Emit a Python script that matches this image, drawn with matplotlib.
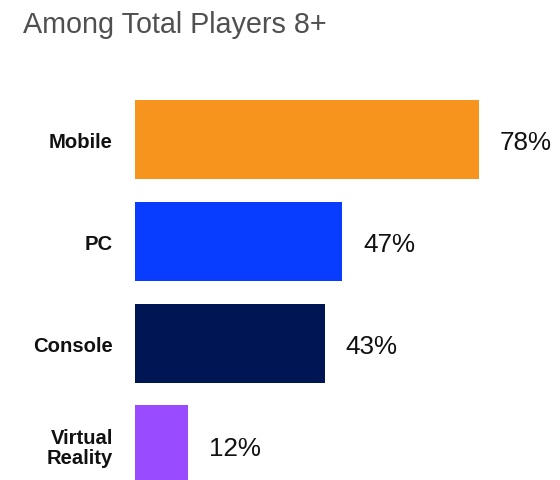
import matplotlib
matplotlib.use("Agg")
import matplotlib.pyplot as plt

# Share of players using each device
categories = ["Mobile", "PC", "Console", "Virtual\nReality"]
shares = [78, 47, 43, 12]
value_labels = ["78%", "47%", "43%", "12%"]
bar_colors = ["#F7941E", "#083CFF", "#001554", "#984BFF"]
subtitle = "Among Total Players 8+"

W, H, DPI = 560, 481, 100
fig = plt.figure(figsize=(W / DPI, H / DPI), dpi=DPI)

# axes spans from the bar baseline to the right edge of the canvas
left_px, top_px = 135, 90
ax = fig.add_axes([left_px / W, 0, 1 - left_px / W, 1 - top_px / H])

px_per_unit = 4.41
ax.set_xlim(0, (W - left_px) / px_per_unit)
ax.set_ylim(3.345, -0.496)

ypos = list(range(len(categories)))
ax.barh(ypos, shares, height=0.775, color=bar_colors)

for y, v, lab in zip(ypos, shares, value_labels):
    ax.annotate(lab, xy=(v, y), xytext=(15, -2), textcoords="offset points",
                ha="left", va="center", fontsize=18.7,
                family="Liberation Sans", color="#111111")

ax.set_yticks(ypos)
ax.set_yticklabels(categories, fontsize=14.6, fontweight="bold",
                   family="Liberation Sans", color="#111111",
                   linespacing=1.1)
ax.tick_params(axis="y", length=0, pad=16)
ax.set_xticks([])
for s in ax.spines.values():
    s.set_visible(False)

fig.text(23 / W, 1 - 33 / H, subtitle, ha="left", va="baseline",
         fontsize=20.7, family="Liberation Sans", color="#505050")

fig.savefig("out.png", dpi=DPI)
